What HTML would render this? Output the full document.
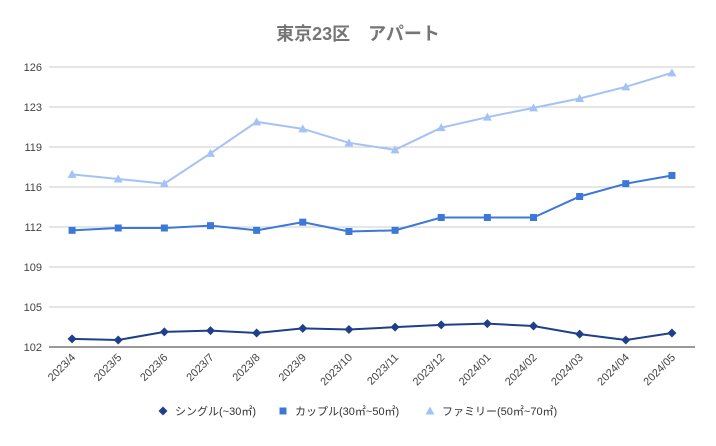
<!DOCTYPE html>
<html><head><meta charset="utf-8"><style>
body{margin:0;background:#fff;font-family:"Liberation Sans","Noto Sans CJK JP",sans-serif}
svg text{font-family:"Liberation Sans","Noto Sans CJK JP",sans-serif}
</style></head><body>
<svg id="c" width="716" height="441">
<rect width="716" height="441" fill="#fff"/>
<text x="358" y="40" text-anchor="middle" font-size="18" font-weight="bold" fill="#757575">東京23区　アパート</text>
<g id="grid"></g><g id="series"></g><g id="legend"></g>
</svg>
<script>
const categories=["2023/4","2023/5","2023/6","2023/7","2023/8","2023/9","2023/10","2023/11","2023/12","2024/01","2024/02","2024/03","2024/04","2024/05"];
const single=[102.7,102.6,103.3,103.4,103.2,103.6,103.5,103.7,103.9,104.0,103.8,103.1,102.6,103.2];
const couple=[112.0,112.2,112.2,112.4,112.0,112.7,111.9,112.0,113.1,113.1,113.1,114.9,116.0,116.7];
const family=[116.8,116.4,116.0,118.6,121.3,120.7,119.5,118.9,120.8,121.7,122.5,123.3,124.3,125.5];
const tickLabels=["102","105","109","112","116","119","123","126"];
const names=["シングル(~30㎡)","カップル(30㎡~50㎡)","ファミリー(50㎡~70㎡)"];
const yMin=102,yMax=126,plotTop=67,plotBot=347,plotLeft=49,plotRight=695;
const NS="http://www.w3.org/2000/svg";
const y=v=>plotBot-(v-yMin)/(yMax-yMin)*(plotBot-plotTop);
const bw=(plotRight-plotLeft)/categories.length;
const x=i=>plotLeft+bw*(i+0.5);
function mk(t,a,p){const e=document.createElementNS(NS,t);for(const k in a)e.setAttribute(k,a[k]);p.appendChild(e);return e;}
const g=document.getElementById('grid');
tickLabels.forEach((t,i)=>{const yy=plotBot-i*(plotBot-plotTop)/(tickLabels.length-1);
 const l=mk('line',{x1:plotLeft,x2:plotRight,y1:yy,y2:yy,stroke:i==0?'#333':'#ccc','stroke-width':1},g);
 
 
 const tx=mk('text',{x:42,y:yy+4,'text-anchor':'end','font-size':11,fill:'#444'},g);tx.textContent=t;
 
 });
categories.forEach((c,i)=>{const tx=mk('text',{x:x(i)+4,y:358,'text-anchor':'end','font-size':11,fill:'#444',transform:`rotate(-45 ${x(i)+4} 358)`},g);tx.textContent=c;
 
 });
const s=document.getElementById('series');
const cols=["#1f3f8a","#3c78d8","#a4c2f4"];
function marker(shape,cx,cy,col,p){let e;
 if(shape==0)e=mk('polygon',{points:`${cx},${cy-4.5} ${cx+4.5},${cy} ${cx},${cy+4.5} ${cx-4.5},${cy}`,fill:col},p);
 else if(shape==1)e=mk('rect',{x:cx-3.5,y:cy-3.5,width:7,height:7,fill:col},p);
 else e=mk('polygon',{points:`${cx},${cy-4.5} ${cx+4.5},${cy+3.5} ${cx-4.5},${cy+3.5}`,fill:col},p);
 return e;}
[single,couple,family].forEach((d,k)=>{
 const pl=mk('polyline',{points:d.map((v,i)=>x(i)+','+y(v)).join(' '),fill:'none',stroke:cols[k],'stroke-width':2},s);
 
 
 d.forEach((v,i)=>{const m=marker(k,x(i),y(v),cols[k],s);
 
 });});
const lg=document.getElementById('legend');
const lx=[163,283,430];
names.forEach((n,k)=>{const m=marker(k,lx[k],411,cols[k],lg);
 
 
 const t=mk('text',{x:lx[k]+12,y:415,'font-size':11,fill:'#333'},lg);t.textContent=n;
 
 });
</script>
</body></html>
